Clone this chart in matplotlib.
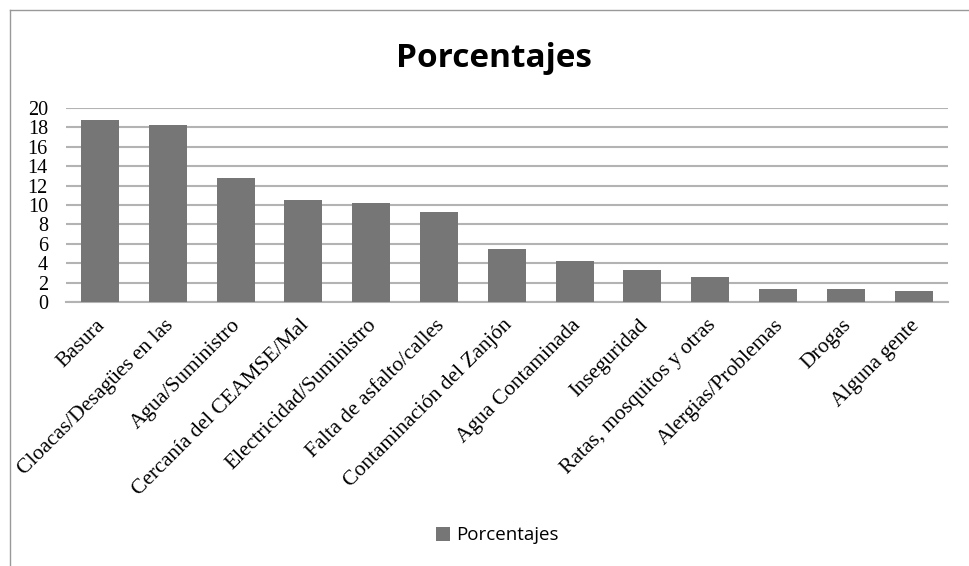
import matplotlib.pyplot as plt
import matplotlib.transforms as mtransforms
from matplotlib.lines import Line2D
from matplotlib.patches import Patch

categories = [
    'Basura', 'Cloacas/Desagües en las', 'Agua/Suministro',
    'Cercanía del CEAMSE/Mal', 'Electricidad/Suministro',
    'Falta de asfalto/calles', 'Contaminación del Zanjón',
    'Agua Contaminada', 'Inseguridad', 'Ratas, mosquitos y otras',
    'Alergias/Problemas', 'Drogas', 'Alguna gente'
]
values = [18.8, 18.2, 12.8, 10.5, 10.25, 9.3, 5.5, 4.2, 3.27, 2.58, 1.37, 1.37, 1.1]
yticks = [0, 2, 4, 6, 8, 10, 12, 14, 16, 18, 20]
series_name = 'Porcentajes'

bar_color = '#767676'
grid_color = '#b3b3b3'

fig = plt.figure(figsize=(9.69, 5.66), dpi=100)
ax = fig.add_axes([0.0681, 0.4664, 0.9099, 0.3428])

x = range(len(categories))
ax.bar(x, values, width=0.56, color=bar_color, zorder=3)

ax.set_xlim(-0.5, len(categories) - 0.5)
ax.set_ylim(0, 20)
ax.set_yticks(yticks)
ax.set_yticklabels([str(t) for t in yticks], family='Liberation Serif', fontsize=14.5)
ax.yaxis.grid(True, color=grid_color, linewidth=1.5, zorder=0)
ax.tick_params(axis='y', length=0, pad=13)
ax.tick_params(axis='x', length=0, pad=10)
ax.set_xticks(list(x))
ax.set_xticklabels(categories, rotation=45, ha='right', rotation_mode='anchor',
                   family='Liberation Serif', fontsize=15.5)
# nudge rotated labels slightly left
shift = mtransforms.ScaledTranslation(-4 / 100, 0, fig.dpi_scale_trans)
for lbl in ax.get_xticklabels():
    lbl.set_transform(lbl.get_transform() + shift)
for s in ['top', 'right', 'left']:
    ax.spines[s].set_visible(False)
ax.spines['bottom'].set_color(grid_color)
ax.spines['bottom'].set_linewidth(1.5)

fig.text(0.51, 0.897, series_name, ha='center', va='center',
         family='Open Sans', fontweight='bold', fontsize=24)

# chart frame
fig.add_artist(Line2D([10 / 969, 10 / 969], [0, 1 - 10 / 566], color='#999999', lw=1))
fig.add_artist(Line2D([10 / 969, 1], [1 - 10 / 566, 1 - 10 / 566], color='#999999', lw=1))

handle = Patch(facecolor=bar_color, edgecolor='none')
fig.legend([handle], [series_name], loc='center', bbox_to_anchor=(0.513, 0.054),
           frameon=False, prop={'family': 'Open Sans', 'size': 13.5},
           handlelength=0.75, handleheight=0.75, handletextpad=0.3)

fig.savefig('out.png', dpi=100)
